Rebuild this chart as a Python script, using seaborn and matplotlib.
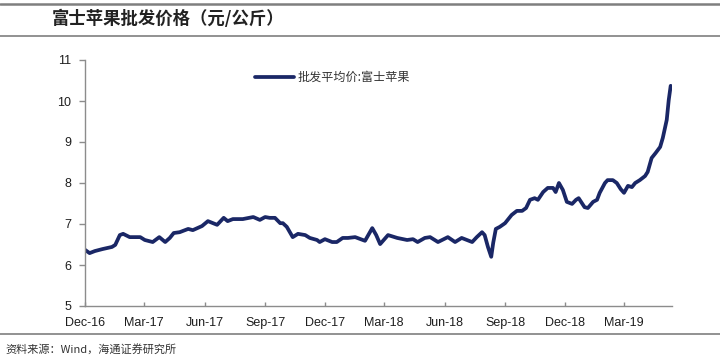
import matplotlib
matplotlib.use("Agg")
import matplotlib.pyplot as plt
from matplotlib.lines import Line2D
import seaborn as sns
import pandas as pd

dates = [
    "2016-12-01", "2016-12-08", "2016-12-16", "2016-12-28", "2017-01-11", "2017-01-16",
    "2017-01-23", "2017-01-28", "2017-02-07", "2017-02-23", "2017-03-02", "2017-03-14",
    "2017-03-24", "2017-04-02", "2017-04-09", "2017-04-15", "2017-04-24", "2017-05-07",
    "2017-05-14", "2017-05-28", "2017-06-06", "2017-06-20", "2017-06-30", "2017-07-06",
    "2017-07-14", "2017-07-29", "2017-08-14", "2017-08-24", "2017-09-01", "2017-09-08",
    "2017-09-16", "2017-09-24", "2017-09-28", "2017-10-04", "2017-10-13", "2017-10-21",
    "2017-11-01", "2017-11-08", "2017-11-19", "2017-11-23", "2017-12-01", "2017-12-12",
    "2017-12-19", "2017-12-28", "2018-01-05", "2018-01-16", "2018-01-31", "2018-02-11",
    "2018-02-17", "2018-02-23", "2018-03-07", "2018-03-21", "2018-04-05", "2018-04-14",
    "2018-04-21", "2018-05-02", "2018-05-10", "2018-05-22", "2018-06-06", "2018-06-17",
    "2018-06-27", "2018-07-13", "2018-07-20", "2018-07-28", "2018-08-01", "2018-08-06",
    "2018-08-11", "2018-08-14", "2018-08-18", "2018-08-24", "2018-09-01", "2018-09-11",
    "2018-09-19", "2018-09-27", "2018-10-03", "2018-10-09", "2018-10-16", "2018-10-21",
    "2018-10-29", "2018-11-05", "2018-11-13", "2018-11-17", "2018-11-22", "2018-11-28",
    "2018-12-04", "2018-12-12", "2018-12-18", "2018-12-22", "2018-12-31", "2019-01-05",
    "2019-01-13", "2019-01-19", "2019-01-23", "2019-01-31", "2019-02-04", "2019-02-12",
    "2019-02-18", "2019-02-24", "2019-03-01", "2019-03-07", "2019-03-13", "2019-03-18",
    "2019-03-25", "2019-04-02", "2019-04-06", "2019-04-12", "2019-04-18", "2019-04-25",
    "2019-04-29", "2019-05-05", "2019-05-08", "2019-05-11",
]
prices = [
    6.37, 6.29, 6.34, 6.39, 6.44, 6.49,
    6.73, 6.76, 6.68, 6.68, 6.61, 6.56,
    6.68, 6.56, 6.66, 6.78, 6.80, 6.88,
    6.85, 6.95, 7.07, 6.98, 7.15, 7.07,
    7.12, 7.12, 7.17, 7.10, 7.17, 7.15,
    7.15, 7.02, 7.02, 6.93, 6.68, 6.76,
    6.73, 6.66, 6.61, 6.56, 6.63, 6.56,
    6.56, 6.66, 6.66, 6.68, 6.59, 6.90,
    6.73, 6.51, 6.73, 6.66, 6.61, 6.63,
    6.56, 6.66, 6.68, 6.56, 6.68, 6.56,
    6.66, 6.56, 6.68, 6.80, 6.73, 6.44,
    6.20, 6.54, 6.88, 6.93, 7.02, 7.22,
    7.32, 7.32, 7.39, 7.59, 7.63, 7.59,
    7.78, 7.88, 7.88, 7.78, 8.00, 7.83,
    7.54, 7.49, 7.59, 7.63, 7.41, 7.39,
    7.54, 7.59, 7.76, 8.00, 8.07, 8.07,
    8.00, 7.85, 7.76, 7.93, 7.90, 8.00,
    8.07, 8.17, 8.27, 8.61, 8.73, 8.88,
    9.10, 9.54, 10.02, 10.37,
]
tick_dates = ["2016-12-01", "2017-03-01", "2017-06-01", "2017-09-01", "2017-12-01",
              "2018-03-01", "2018-06-01", "2018-09-01", "2018-12-01", "2019-03-01"]
tick_labels = ["Dec-16", "Mar-17", "Jun-17", "Sep-17", "Dec-17",
               "Mar-18", "Jun-18", "Sep-18", "Dec-18", "Mar-19"]
y_ticks = [5, 6, 7, 8, 9, 10, 11]
series_name = "批发平均价:富士苹果"
title = "富士苹果批发价格（元/公斤）"
source = "资料来源：Wind，海通证券研究所"

sns.set_style("white")
plt.rcParams["font.family"] = ["Liberation Sans", "Noto Sans CJK SC", "DejaVu Sans"]

df = pd.DataFrame({"date": pd.to_datetime(dates), "price": prices, "series": series_name})

fig = plt.figure(figsize=(7.2, 3.61), dpi=100)
ax = fig.add_axes([85 / 720, 1 - 306 / 361, (672 - 85) / 720, (306 - 60) / 361])

sns.lineplot(data=df, x="date", y="price", hue="series", palette=["#1a2766"],
             linewidth=2.7, ax=ax, solid_joinstyle="round", solid_capstyle="round")

ax.set_xlim(pd.Timestamp("2016-12-01"), pd.Timestamp("2019-05-13"))
ax.set_ylim(5, 11)
ax.set_yticks(y_ticks)
ax.set_yticklabels([str(v) for v in y_ticks])
ax.set_xticks(pd.to_datetime(tick_dates))
ax.set_xticklabels(tick_labels)
ax.set_xlabel("")
ax.set_ylabel("")

for s in ["top", "right"]:
    ax.spines[s].set_visible(False)
for s in ["left", "bottom"]:
    ax.spines[s].set_color("#8c8c8c")
    ax.spines[s].set_linewidth(1.0)

ax.tick_params(axis="y", direction="out", length=4, width=1, color="#8c8c8c",
               labelsize=9, labelcolor="#1e1e1e", pad=6, left=True)
ax.tick_params(axis="x", direction="in", length=3, width=1, color="#8c8c8c",
               labelsize=9, labelcolor="#1e1e1e", pad=8, bottom=True)

leg = ax.legend(loc="upper left", bbox_to_anchor=((244 - 85) / 587, 1.0),
                frameon=False, handlelength=3.2, handletextpad=0.3,
                prop={"family": ["Noto Sans CJK SC"], "size": 8.7})
for t in leg.get_texts():
    t.set_color("#333333")
for h in leg.get_lines():
    h.set_linewidth(2.7)

fig.text(52 / 720, 1 - 19 / 361, title, family=["Noto Sans CJK SC"], fontweight="bold",
         fontsize=12.5, color="#222222", va="center", ha="left")
fig.text(5 / 720, 1 - 349 / 361, source, family=["Noto Sans CJK SC", "DejaVu Sans"],
         fontsize=8, color="#333333", va="center", ha="left")

fig.add_artist(Line2D([0, 1], [1 - 4 / 361, 1 - 4 / 361], color="#7f7f7f", linewidth=1.8,
                      transform=fig.transFigure))
fig.add_artist(Line2D([0, 1], [1 - 36 / 361, 1 - 36 / 361], color="#7f7f7f", linewidth=1.2,
                      transform=fig.transFigure))
fig.add_artist(Line2D([0, 1], [1 - 334 / 361, 1 - 334 / 361], color="#7f7f7f", linewidth=1.2,
                      transform=fig.transFigure))

fig.savefig("out.png", dpi=100)
